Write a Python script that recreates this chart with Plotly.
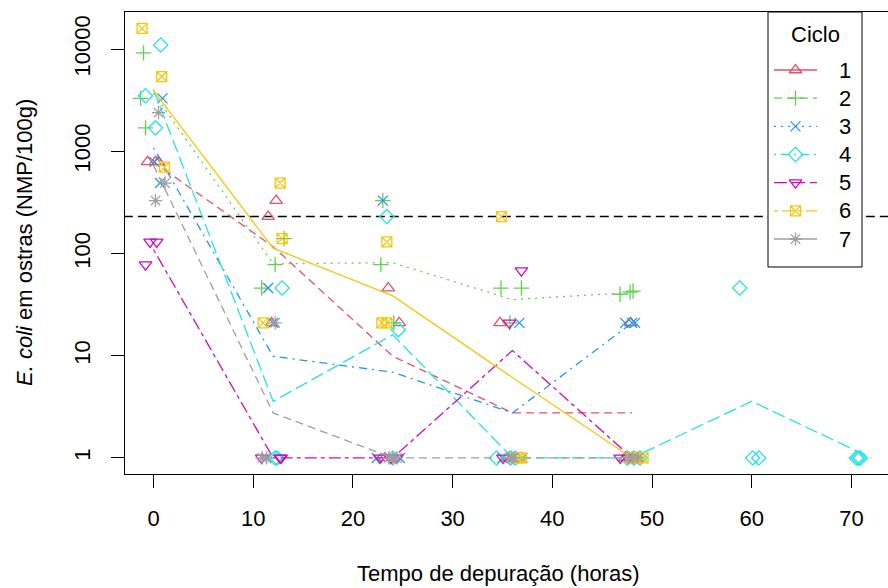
import numpy as np
import plotly.graph_objects as go

# ---------------- data ----------------
cycles = ["1", "2", "3", "4", "5", "6", "7"]

# jittered sampling times (h) and E. coli (NMP/100g) per cycle
c1_x = [-0.6, 0.2, 0.5, 12.3, 11.5, 11.85, 23.55, 24.65, 23.2, 34.75, 35.5, 36.4, 47.86, 47.3, 48.5]
c1_y = [790, 790, 790, 330, 230, 21, 46, 21, 1, 21, 1, 1, 21, 1, 1]

c2_x = [-1.0, -1.3, -0.8, 13.1, 12.2, 10.85, 23.0, 22.8, 24.1, 34.85, 36.9, 35.75, 46.8, 47.8, 48.1]
c2_y = [9200, 3300, 1700, 140, 78, 46, 330, 78, 21, 46, 46, 21, 40, 42, 43]

c3_x = [0.9, 0.1, 0.65, 11.5, 12.0, 11.3, 23.0, 22.4, 24.7, 36.7, 35.0, 37.0, 47.3, 48.3, 48.0]
c3_y = [3300, 790, 490, 46, 21, 1, 330, 1, 1, 21, 1, 1, 21, 21, 21]

c4_x = [0.72, -0.8, 0.2, 12.9, 12.2, 12.4, 23.4, 24.55, 24.0, 34.4, 35.8, 36.3, 48.2, 48.8, 47.5,
        58.8, 60.1, 60.7, 70.5, 70.9, 70.7]
c4_y = [11000, 3500, 1700, 46, 1, 1, 230, 18, 1, 1, 1, 1, 1, 1, 1, 46, 1, 1, 1, 1, 1]

c5_x = [-0.8, -0.35, 0.32, 10.85, 12.7, 12.8, 22.7, 23.8, 24.4, 36.9, 35.7, 35.05, 46.8, 47.6, 48.2]
c5_y = [78, 130, 130, 1, 1, 1, 1, 1, 1, 68, 21, 1, 1, 1, 1]

c6_x = [-1.15, 0.82, 1.08, 12.7, 12.9, 11.0, 23.4, 22.9, 23.4, 34.9, 36.9, 36.6, 49.1, 48.5, 47.9]
c6_y = [16000, 5400, 700, 490, 140, 21, 130, 21, 21, 230, 1, 1, 1, 1, 1]

c7_x = [0.5, 1.15, 0.2, 12.2, 11.35, 10.9, 24.0, 24.4, 23.6, 35.7, 36.1, 35.9, 48.0, 48.6, 47.7]
c7_y = [2400, 490, 330, 21, 1, 1, 1, 1, 1, 1, 1, 1, 1, 1, 1]

limit_value = 230          # legal limit line
sampling_step = 12         # h between sampling times

x_ticks = [0, 10, 20, 30, 40, 50, 60, 70]
y_ticks = [1, 10, 100, 1000, 10000]
y_tick_labels = ["1", "10", "100", "1000", "10000"]

# ---------------- styles ----------------
colors = ["#DF536B", "#61D04F", "#2297E6", "#28E2E5", "#CD0BBC", "#F5C710", "#9E9E9E"]
symbols = ["triangle-up-open", "cross-thin-open", "x-thin-open", "diamond-open",
           "triangle-down-open", "square-x-open", "asterisk-open"]
sizes = [11, 11, 10, 11, 11, 10, 11]
DASHED = "8px,5px"
DOTTED = "2px,5px"
DOTDASH = "2px,5px,8px,5px"
LONGDASH = "13px,5px"
TWODASH = "4px,4px,12px,4px"
plot_dash = [DASHED, DOTTED, DOTDASH, LONGDASH, TWODASH, "solid", DASHED]
legend_dash = ["solid", DASHED, DOTTED, DOTDASH, LONGDASH, TWODASH, "solid"]

FONT = "Liberation Sans, Arial, sans-serif"
FS = 22

# plot area in page pixels (for placing the hand-built legend)
PL, PR, PT, PB = 125, 888, 12, 474


def pxx(p):
    return (p - PL) / (PR - PL)


def pxy(p):
    return (PB - p) / (PB - PT)


xs = [c1_x, c2_x, c3_x, c4_x, c5_x, c6_x, c7_x]
ys = [c1_y, c2_y, c3_y, c4_y, c5_y, c6_y, c7_y]

fig = go.Figure()

# threshold line
fig.add_trace(go.Scatter(x=[-10, 100], y=[limit_value, limit_value], mode="lines",
                         line=dict(color="black", width=1.5, dash="9px,5px"),
                         showlegend=False, hoverinfo="skip"))

for i, c in enumerate(cycles):
    x = np.array(xs[i], dtype=float)
    y = np.array(ys[i], dtype=float)
    nominal = np.round(x / sampling_step) * sampling_step
    times = np.unique(nominal)
    gmean = [10 ** np.mean(np.log10(y[nominal == t])) for t in times]
    fig.add_trace(go.Scatter(x=times, y=gmean, mode="lines",
                             line=dict(color=colors[i], width=1.3, dash=plot_dash[i]),
                             showlegend=False, hoverinfo="skip"))
    fig.add_trace(go.Scatter(x=x, y=y, mode="markers",
                             marker=dict(symbol=symbols[i], size=sizes[i], color=colors[i],
                                         line=dict(color=colors[i], width=1.3)),
                             showlegend=False, name=c))

# ---------------- hand-built legend (overlay axes in plot-fraction units) ----------------
LEG_L, LEG_R, LEG_T, LEG_B = 768, 862, 12, 267
fig.add_trace(go.Scatter(x=[pxx(LEG_L), pxx(LEG_R), pxx(LEG_R), pxx(LEG_L), pxx(LEG_L)],
                         y=[pxy(LEG_B), pxy(LEG_B), pxy(LEG_T), pxy(LEG_T), pxy(LEG_B)],
                         mode="lines", fill="toself", fillcolor="white",
                         line=dict(color="black", width=1), xaxis="x2", yaxis="y2",
                         showlegend=False, hoverinfo="skip"))
annotations = [
    dict(text="Ciclo", xref="x2", yref="y2", x=pxx(815), y=pxy(34), showarrow=False,
         xanchor="center", yanchor="middle", font=dict(size=FS))
]
ENTRY_TOP, ENTRY_STEP = 70, 28.17
for i, c in enumerate(cycles):
    yy = pxy(ENTRY_TOP + ENTRY_STEP * i)
    fig.add_trace(go.Scatter(x=[pxx(774), pxx(817)], y=[yy, yy], mode="lines",
                             line=dict(color=colors[i], width=1.3, dash=legend_dash[i]),
                             xaxis="x2", yaxis="y2", showlegend=False, hoverinfo="skip"))
    fig.add_trace(go.Scatter(x=[pxx(795.5)], y=[yy], mode="markers",
                             marker=dict(symbol=symbols[i], size=sizes[i], color=colors[i],
                                         line=dict(color=colors[i], width=1.3)),
                             xaxis="x2", yaxis="y2", showlegend=False, hoverinfo="skip"))
    annotations.append(dict(text=c, xref="x2", yref="y2", x=pxx(845), y=yy, showarrow=False,
                            xanchor="center", yanchor="middle", font=dict(size=FS)))

annotations += [
    dict(text="Tempo de depuração (horas)", xref="paper", yref="paper",
         x=pxx(498), y=pxy(573), xanchor="center", yanchor="middle", showarrow=False,
         font=dict(size=FS)),
    dict(text="<i>E. coli</i> em ostras (NMP/100g)", xref="paper", yref="paper",
         x=pxx(24), y=0.5, xanchor="center", yanchor="middle", textangle=-90,
         showarrow=False, font=dict(size=FS)),
]

fig.update_layout(
    width=888, height=588,
    margin=dict(l=PL, r=888 - PR, t=PT, b=588 - PB),
    paper_bgcolor="white", plot_bgcolor="white",
    font=dict(family=FONT, size=FS, color="black"),
    showlegend=False,
    hovermode=False,
    xaxis=dict(range=[-2.86, 73.67], tickvals=x_ticks, ticks="outside", ticklen=13,
               tickcolor="black", showgrid=False, zeroline=False, showline=True,
               linecolor="black", linewidth=1, mirror=True, ticklabelstandoff=12,
               tickfont=dict(size=FS)),
    yaxis=dict(type="log", range=[-0.157, 4.364], tickvals=y_ticks, ticktext=y_tick_labels,
               tickangle=-90, ticks="outside", ticklen=13, tickcolor="black",
               showgrid=False, zeroline=False, showline=True, linecolor="black",
               linewidth=1, ticklabelstandoff=12, tickfont=dict(size=FS)),
    xaxis2=dict(overlaying="x", anchor="y2", range=[0, 1], visible=False, fixedrange=True),
    yaxis2=dict(overlaying="y", anchor="x2", range=[0, 1], visible=False, fixedrange=True),
    annotations=annotations,
)

fig.write_html("out.html", config={"displayModeBar": False, "staticPlot": True},
               post_script="document.body.style.margin='0';")
